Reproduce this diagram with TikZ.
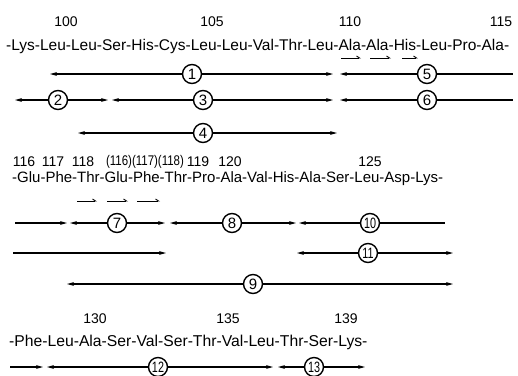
\documentclass[tikz,border=0pt]{standalone}
\usepackage{fontspec}
\setmainfont{Liberation Sans}
\usetikzlibrary{arrows.meta}
\newcommand{\narrow}[1]{\scalebox{0.72}[1]{#1}}
\begin{document}
\begin{tikzpicture}[x=1pt,y=-1pt,
  seq/.style={inner sep=0pt, anchor=west},
  num/.style={font=\fontsize{14}{16}\selectfont, inner sep=0pt},
  res/.style={circle, draw, line width=1.4pt, minimum size=19pt, inner sep=0pt, font=\fontsize{15}{17}\selectfont},
  seg/.style={line width=1.1pt},
  tip/.style={seg, -{Stealth[length=7pt,width=3.8pt]}},
  strand/.style={line width=0.9pt, -{Straight Barb[left,length=3pt,width=4pt]}}
]
\useasboundingbox (0,0) rectangle (518,375);
% ---------- block 1 ----------
\node[num] (n100) at (66,22) {100};
\node[num] (n105) at (212,22) {105};
\node[num] (n110) at (350,22) {110};
\node[num] (n115) at (501,22) {115};
\node[seq, font=\fontsize{15.5}{17}\selectfont] (s1) at (6,46) {-Lys-Leu-Leu-Ser-His-Cys-Leu-Leu-Val-Thr-Leu-Ala-Ala-His-Leu-Pro-Ala-};
\coordinate (p1a) at (341,58); \coordinate (p1b) at (361,58);
\coordinate (p2a) at (370,58); \coordinate (p2b) at (391,58);
\coordinate (p3a) at (402,58); \coordinate (p3b) at (418,58);
\draw[strand] (p1a) -- (p1b);
\draw[strand] (p2a) -- (p2b);
\draw[strand] (p3a) -- (p3b);
% row 1
\coordinate (a1) at (50,74); \node[res] (c1) at (192,74) {1}; \coordinate (b1) at (333,74);
\draw[tip] (c1) -- (a1); \draw[tip] (c1) -- (b1);
\coordinate (a5) at (340,74); \node[res] (c5) at (427,74) {5}; \coordinate (b5) at (513,74);
\draw[tip] (c5) -- (a5); \draw[seg] (c5) -- (b5);
% row 2
\coordinate (a2) at (15,100); \node[res] (c2) at (58,100) {2}; \coordinate (b2) at (108,100);
\draw[tip] (c2) -- (a2); \draw[tip] (c2) -- (b2);
\coordinate (a3) at (112,100); \node[res] (c3) at (203,100) {3}; \coordinate (b3) at (333,100);
\draw[tip] (c3) -- (a3); \draw[tip] (c3) -- (b3);
\coordinate (a6) at (340,100); \node[res] (c6) at (427,100) {6}; \coordinate (b6) at (513,100);
\draw[tip] (c6) -- (a6); \draw[seg] (c6) -- (b6);
% row 3
\coordinate (a4) at (78,133); \node[res] (c4) at (203,133) {4}; \coordinate (b4) at (337,133);
\draw[tip] (c4) -- (a4); \draw[tip] (c4) -- (b4);
% ---------- block 2 ----------
\node[num] (n116) at (24,162) {116};
\node[num] (n117) at (53,162) {117};
\node[num] (n118) at (83,162) {118};
\node[num] (n116b) at (145,162) {\scalebox{0.82}[1]{(116)(117)(118)}};
\node[num] (n119) at (198,162) {119};
\node[num] (n120) at (230,162) {120};
\node[num] (n125) at (370,162) {125};
\node[seq, font=\fontsize{15}{17}\selectfont] (s2) at (12,179) {-Glu-Phe-Thr-Glu-Phe-Thr-Pro-Ala-Val-His-Ala-Ser-Leu-Asp-Lys-};
\coordinate (q1a) at (77,201); \coordinate (q1b) at (97,201);
\coordinate (q2a) at (107,201); \coordinate (q2b) at (128,201);
\coordinate (q3a) at (137,201); \coordinate (q3b) at (160,201);
\draw[strand] (q1a) -- (q1b);
\draw[strand] (q2a) -- (q2b);
\draw[strand] (q3a) -- (q3b);
% row 4
\coordinate (a0) at (15,223); \coordinate (b0) at (67,223);
\draw[tip] (a0) -- (b0);
\coordinate (a7) at (70,223); \node[res] (c7) at (117,223) {7}; \coordinate (b7) at (165,223);
\draw[tip] (c7) -- (a7); \draw[tip] (c7) -- (b7);
\coordinate (a8) at (170,223); \node[res] (c8) at (232,223) {8}; \coordinate (b8) at (296,223);
\draw[tip] (c8) -- (a8); \draw[tip] (c8) -- (b8);
\coordinate (a10) at (299,223); \node[res] (c10) at (370,223) {\narrow{10}}; \coordinate (b10) at (445,223);
\draw[tip] (c10) -- (a10); \draw[seg] (c10) -- (b10);
% row 5
\coordinate (a00) at (13,253); \coordinate (b00) at (166,253);
\draw[tip] (a00) -- (b00);
\coordinate (a11) at (297,253); \node[res] (c11) at (368,253) {\narrow{11}}; \coordinate (b11) at (453,253);
\draw[tip] (c11) -- (a11); \draw[tip] (c11) -- (b11);
% row 6
\coordinate (a9) at (67,284); \node[res] (c9) at (253,284) {9}; \coordinate (b9) at (453,284);
\draw[tip] (c9) -- (a9); \draw[tip] (c9) -- (b9);
% ---------- block 3 ----------
\node[num] (n130) at (95,319) {130};
\node[num] (n135) at (228,319) {135};
\node[num] (n139) at (346,319) {139};
\node[seq, font=\fontsize{15.7}{17}\selectfont] (s3) at (9,342) {-Phe-Leu-Ala-Ser-Val-Ser-Thr-Val-Leu-Thr-Ser-Lys-};
\coordinate (a000) at (10,367); \coordinate (b000) at (43,367);
\draw[tip] (a000) -- (b000);
\coordinate (a12) at (47,367); \node[res] (c12) at (158,367) {\narrow{12}}; \coordinate (b12) at (273,367);
\draw[tip] (c12) -- (a12); \draw[tip] (c12) -- (b12);
\coordinate (a13) at (278,367); \node[res] (c13) at (314,367) {\narrow{13}}; \coordinate (b13) at (365,367);
\draw[tip] (c13) -- (a13); \draw[tip] (c13) -- (b13);
\end{tikzpicture}
\end{document}
